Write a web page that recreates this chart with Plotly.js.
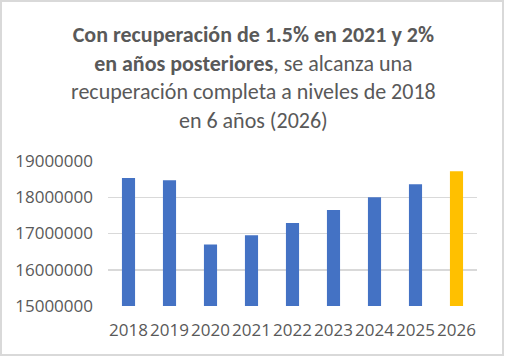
<!DOCTYPE html>
<html><head><meta charset="utf-8">
<script src="https://cdn.plot.ly/plotly-3.0.1.min.js"></script>
<style>
html,body{margin:0;padding:0;background:#fff;}
#wrap{position:absolute;left:0;top:0;width:504px;height:356px;box-sizing:border-box;border:2px solid #d9d9d9;background:#fff;}
#chart{width:500px;height:352px;}
</style></head>
<body><div id="wrap"><div id="chart"></div></div>
<script>
const years = ['2018','2019','2020','2021','2022','2023','2024','2025','2026'];
const values = [18530000, 18470000, 16700000, 16950000, 17290000, 17650000, 18000000, 18360000, 18720000];
const barColors = ['#4472C4','#4472C4','#4472C4','#4472C4','#4472C4','#4472C4','#4472C4','#4472C4','#FFC000'];
const yTicks = [15000000, 16000000, 17000000, 18000000, 19000000];
const titleText = '<b>Con recuperación de 1.5% en 2021 y 2%</b><br><b>en años posteriores</b>, se alcanza una<br>recuperación completa a niveles de 2018<br>en 6 años (2026)';

const titleFont = 'Carlito, Lato, sans-serif';
const tickFont = '"Open Sans", "Liberation Sans", sans-serif';
const plotH = 352 - 159 - 48;
Plotly.newPlot('chart', [{
  type: 'bar', x: years, y: values,
  marker: {color: barColors},
  hoverinfo: 'x+y'
}], {
  width: 500, height: 352,
  margin: {l: 106, r: 25, t: 159, b: 48},
  paper_bgcolor: '#fff', plot_bgcolor: '#fff',
  bargap: 0.68,
  showlegend: false,
  annotations: [{
    text: titleText, xref: 'paper', yref: 'paper', x: (253 - 2 - 106) / (500 - 106 - 25), xanchor: 'center',
    y: 1 + (159 - 17) / plotH, yanchor: 'top', showarrow: false, align: 'center',
    font: {family: titleFont, size: 22, color: '#595959'}
  }],
  xaxis: {type: 'category', showgrid: false, zeroline: false, showline: false, ticks: '', tickangle: 0,
    tickfont: {family: tickFont, size: 17, color: '#595959'}, ticklabelstandoff: 12},
  yaxis: {range: [15000000, 19000000], tickvals: yTicks, ticktext: yTicks.map(String),
    showgrid: true, gridcolor: '#d9d9d9', gridwidth: 1.5, zeroline: false, showline: false, ticks: '',
    tickfont: {family: tickFont, size: 17, color: '#595959'}, ticklabelstandoff: 14}
}, {displayModeBar: false, staticPlot: true});
</script></body></html>
